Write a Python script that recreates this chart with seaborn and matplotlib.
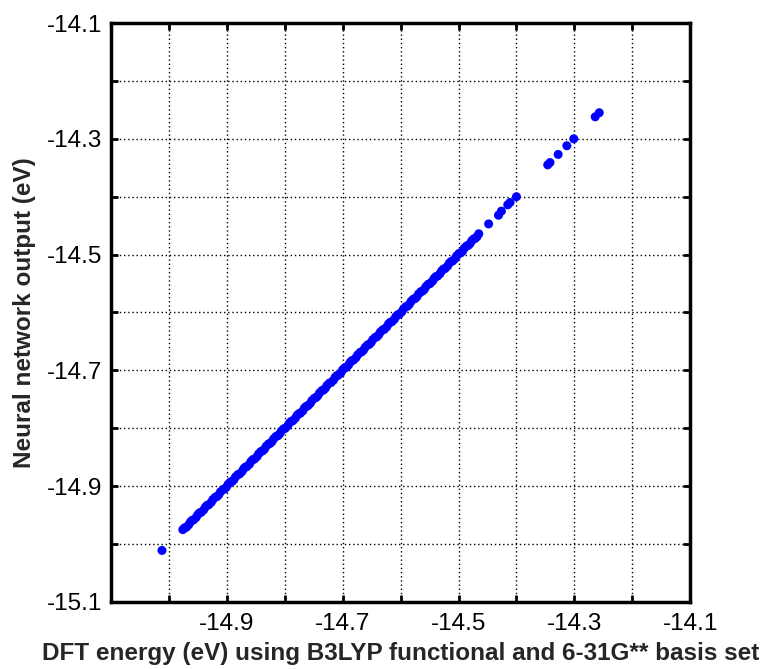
import matplotlib
matplotlib.use("Agg")
import matplotlib.pyplot as plt
import seaborn as sns
import pandas as pd

# DFT energies (eV) and neural network outputs (eV)
dft_energy = [
    -15.012,
    -14.976, -14.970, -14.963, -14.957, -14.950, -14.944, -14.937, -14.931,
    -14.924, -14.917, -14.911, -14.904, -14.898, -14.891, -14.885, -14.878,
    -14.871, -14.865, -14.858, -14.852, -14.845, -14.838, -14.832, -14.825,
    -14.819, -14.812, -14.806, -14.799, -14.792, -14.786, -14.779, -14.773,
    -14.766, -14.760, -14.753, -14.746, -14.740, -14.733, -14.727, -14.720,
    -14.713, -14.707, -14.700, -14.694, -14.687, -14.681, -14.674, -14.667,
    -14.661, -14.654, -14.648, -14.641, -14.635, -14.628, -14.621, -14.615,
    -14.608, -14.602, -14.595, -14.588, -14.582, -14.575, -14.569, -14.562,
    -14.556, -14.549, -14.542, -14.536, -14.529, -14.523, -14.516, -14.510,
    -14.503, -14.496, -14.490, -14.483, -14.477, -14.471, -14.465,
    -14.448, -14.431, -14.426, -14.415, -14.411, -14.400,
    -14.346, -14.342, -14.328, -14.313, -14.301,
    -14.264, -14.257,
]
nn_output = [
    -15.011,
    -14.975, -14.971, -14.962, -14.958, -14.949, -14.945, -14.936, -14.932,
    -14.923, -14.918, -14.910, -14.905, -14.897, -14.892, -14.884, -14.879,
    -14.870, -14.866, -14.857, -14.853, -14.844, -14.839, -14.831, -14.826,
    -14.818, -14.813, -14.805, -14.800, -14.791, -14.787, -14.778, -14.774,
    -14.765, -14.761, -14.752, -14.747, -14.739, -14.734, -14.726, -14.721,
    -14.712, -14.708, -14.699, -14.695, -14.686, -14.682, -14.673, -14.668,
    -14.660, -14.655, -14.647, -14.642, -14.634, -14.629, -14.620, -14.616,
    -14.607, -14.603, -14.594, -14.589, -14.581, -14.576, -14.568, -14.563,
    -14.555, -14.550, -14.541, -14.537, -14.528, -14.524, -14.515, -14.511,
    -14.502, -14.497, -14.489, -14.484, -14.476, -14.472, -14.464,
    -14.447, -14.432, -14.425, -14.414, -14.410, -14.400,
    -14.345, -14.341, -14.327, -14.312, -14.300,
    -14.262, -14.255,
]
# further samples lying in the dense part of the band
dft_energy_dense = [
    -14.973, -14.966, -14.960, -14.953, -14.947, -14.940, -14.934, -14.927,
    -14.920, -14.914, -14.907, -14.901, -14.894, -14.888, -14.881, -14.874,
    -14.868, -14.861, -14.855, -14.848, -14.841, -14.835, -14.828, -14.822,
    -14.815, -14.809, -14.802, -14.795, -14.789, -14.782, -14.776, -14.769,
    -14.763, -14.756, -14.749, -14.743, -14.736, -14.730, -14.723, -14.716,
    -14.710, -14.703, -14.697, -14.690, -14.684, -14.677, -14.670, -14.664,
    -14.657, -14.651, -14.644, -14.638, -14.631, -14.624, -14.618, -14.611,
    -14.605, -14.598, -14.591, -14.585, -14.578, -14.572, -14.565, -14.559,
    -14.552, -14.545, -14.539, -14.532, -14.526, -14.519, -14.513, -14.506,
    -14.499, -14.493, -14.486, -14.480, -14.474, -14.468,
]
nn_output_dense = [
    -14.972, -14.967, -14.959, -14.954, -14.946, -14.941, -14.933, -14.928,
    -14.919, -14.915, -14.906, -14.902, -14.893, -14.889, -14.880, -14.875,
    -14.867, -14.862, -14.854, -14.849, -14.840, -14.836, -14.827, -14.823,
    -14.814, -14.810, -14.801, -14.796, -14.788, -14.783, -14.775, -14.770,
    -14.762, -14.757, -14.748, -14.744, -14.735, -14.731, -14.722, -14.717,
    -14.709, -14.704, -14.696, -14.691, -14.683, -14.678, -14.669, -14.665,
    -14.656, -14.652, -14.643, -14.639, -14.630, -14.625, -14.617, -14.612,
    -14.604, -14.599, -14.590, -14.586, -14.577, -14.573, -14.564, -14.560,
    -14.551, -14.546, -14.538, -14.533, -14.525, -14.520, -14.512, -14.507,
    -14.498, -14.494, -14.485, -14.481, -14.473, -14.469,
]

x_ticks = [-15.1, -15.0, -14.9, -14.8, -14.7, -14.6, -14.5, -14.4, -14.3, -14.2, -14.1]
x_ticklabels = ["", "", "-14.9", "", "-14.7", "", "-14.5", "", "-14.3", "", "-14.1"]
y_ticks = [-15.1, -15.0, -14.9, -14.8, -14.7, -14.6, -14.5, -14.4, -14.3, -14.2, -14.1]
y_ticklabels = ["-15.1", "", "-14.9", "", "-14.7", "", "-14.5", "", "-14.3", "", "-14.1"]

df = pd.DataFrame({"dft": dft_energy + dft_energy_dense,
                   "nn": nn_output + nn_output_dense})

sns.set_style("white")
plt.rcParams["font.family"] = ["Liberation Sans", "DejaVu Sans"]

fig = plt.figure(figsize=(7.79, 6.69), dpi=100)
ax = fig.add_axes([0.1425, 0.1002, 0.7435, 0.8654])

sns.scatterplot(data=df, x="dft", y="nn", ax=ax, color="#0000ff",
                s=42, edgecolor="none", linewidth=0, zorder=3, legend=False)

ax.set_xlim(-15.1, -14.1)
ax.set_ylim(-15.1, -14.1)
ax.set_xticks(x_ticks)
ax.set_xticklabels(x_ticklabels)
ax.set_yticks(y_ticks)
ax.set_yticklabels(y_ticklabels)

ax.grid(True, color="black", linestyle=(0, (1, 2)), linewidth=1.0, zorder=0)
ax.tick_params(direction="in", length=5, width=2.0, colors="black",
               labelsize=17.5, top=True, right=True, bottom=True, left=True)
ax.tick_params(axis="x", pad=8)
ax.tick_params(axis="y", pad=6)
for sp in ax.spines.values():
    sp.set_linewidth(2.5)
    sp.set_color("black")

ax.set_xlabel("DFT energy (eV) using B3LYP functional and 6-31G** basis set",
              fontsize=17.5, fontweight="bold", labelpad=5)
ax.set_ylabel("Neural network output (eV)", fontsize=17.5, fontweight="bold",
              labelpad=8)

fig.savefig("out.png", dpi=100, facecolor="white")
